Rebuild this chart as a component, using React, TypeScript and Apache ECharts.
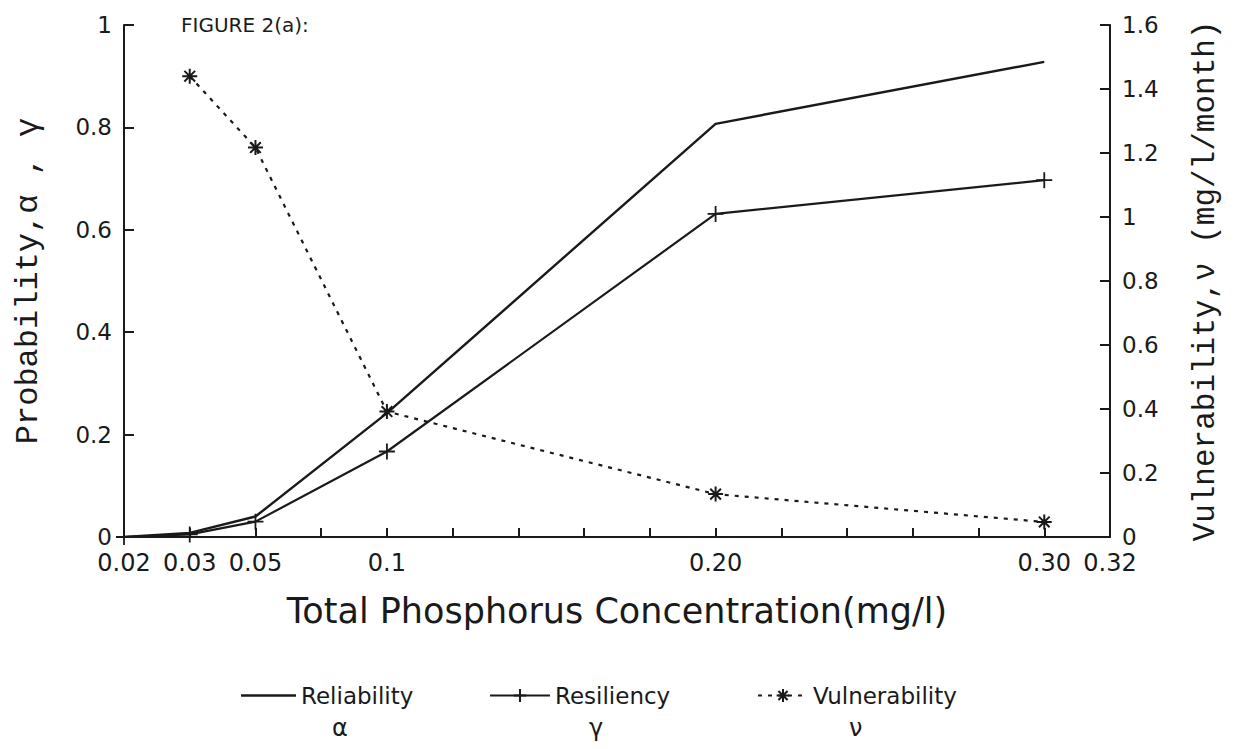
import React, { useEffect, useRef } from "react";
import * as echarts from "echarts";

// Axis positions (evenly spaced ticks as in the original figure)
const categories = ["0.02", "0.03", "0.05", "0.075", "0.1", "0.12", "0.14", "0.16", "0.18", "0.20", "0.22", "0.24", "0.26", "0.28", "0.30", "0.32"];
const labeledTicks = ["0.02", "0.03", "0.05", "0.1", "0.20", "0.30", "0.32"];

// Series data
const concentrations = ["0.02", "0.03", "0.05", "0.1", "0.20", "0.30"];
const reliability = [0, 0.008, 0.04, 0.242, 0.807, 0.928];
const resiliency = [0, 0.005, 0.03, 0.167, 0.631, 0.697];
const vulnConcentrations = ["0.03", "0.05", "0.1", "0.20", "0.30"];
const vulnerability = [1.44, 1.217, 0.392, 0.134, 0.047];

const leftTicks = { min: 0, max: 1, interval: 0.2 };
const rightTicks = { min: 0, max: 1.6, interval: 0.2 };

const INK = "#1a1a1a";
const SANS = "DejaVu Sans, sans-serif";
const MONO = "Liberation Mono, monospace";

const PLUS = "path://M7,0L7,14M0,7L14,7";
const STAR = "path://M7,0L7,14M0,7L14,7M2,2L12,12M2,12L12,2";

export default function App() {
  const ref = useRef<HTMLDivElement>(null);
  useEffect(() => {
    if (!ref.current) return;
    const chart = echarts.init(ref.current, null, { renderer: "svg" });
    const pairs = (xs: string[], ys: number[]) => xs.map((x, i) => [x, ys[i]]);
    const legendText = { fontFamily: SANS, fontSize: 23, color: INK };
    chart.setOption({
      animation: false,
      backgroundColor: "#ffffff",
      title: {
        text: "FIGURE 2(a):",
        left: 176,
        top: 10,
        textStyle: { fontFamily: SANS, fontSize: 20, fontWeight: "normal", color: INK },
      },
      grid: { left: 124, right: 133, top: 25, bottom: 212 },
      legend: [
        {
          data: [{ name: "Reliability", icon: "rect" }],
          left: 236,
          top: 679,
          itemWidth: 55,
          itemHeight: 2.5,
          itemStyle: { color: INK },
          textStyle: legendText,
        },
        {
          data: ["Resiliency"],
          left: 484,
          top: 679,
          itemWidth: 60,
          itemHeight: 16,
          textStyle: legendText,
        },
        {
          data: ["Vulnerability"],
          left: 752,
          top: 679,
          itemWidth: 50,
          itemHeight: 16,
          textStyle: legendText,
        },
      ],
      graphic: [
        { type: "text", left: 332, top: 716, style: { text: "α", font: `24px ${SANS}`, fill: INK } },
        { type: "text", left: 589, top: 716, style: { text: "γ", font: `24px ${SANS}`, fill: INK } },
        { type: "text", left: 849, top: 716, style: { text: "ν", font: `24px ${SANS}`, fill: INK } },
      ],
      xAxis: {
        type: "category",
        data: categories,
        boundaryGap: false,
        name: "Total Phosphorus Concentration(mg/l)",
        nameLocation: "middle",
        nameGap: 56,
        nameTextStyle: { fontFamily: SANS, fontSize: 35, color: INK },
        axisLine: { show: true, lineStyle: { color: INK, width: 2 } },
        axisTick: { show: true, inside: true, length: 9, interval: 0, lineStyle: { color: INK, width: 2 } },
        axisLabel: {
          interval: (_i: number, v: string) => labeledTicks.includes(v),
          fontFamily: SANS,
          fontSize: 24,
          color: INK,
          margin: 14,
        },
        splitLine: { show: false },
      },
      yAxis: [
        {
          type: "value",
          ...leftTicks,
          position: "left",
          name: "Probability,α , γ",
          nameLocation: "middle",
          nameRotate: 90,
          nameGap: 80,
          nameTextStyle: { fontFamily: MONO, fontSize: 32, color: INK },
          axisLine: { show: true, lineStyle: { color: INK, width: 2 } },
          axisTick: { show: true, inside: true, length: 10, lineStyle: { color: INK, width: 2 } },
          axisLabel: { fontFamily: SANS, fontSize: 23, color: INK, margin: 12 },
          splitLine: { show: false },
        },
        {
          type: "value",
          ...rightTicks,
          position: "right",
          name: "Vulnerability,ν (mg/l/month)",
          nameLocation: "middle",
          nameRotate: 90,
          nameGap: 80,
          nameTextStyle: { fontFamily: MONO, fontSize: 31, color: INK },
          axisLine: { show: true, lineStyle: { color: INK, width: 2 } },
          axisTick: { show: true, inside: true, length: 10, lineStyle: { color: INK, width: 2 } },
          axisLabel: { fontFamily: SANS, fontSize: 23, color: INK, margin: 12 },
          splitLine: { show: false },
        },
      ],
      series: [
        {
          name: "Reliability",
          type: "line",
          yAxisIndex: 0,
          data: pairs(concentrations, reliability),
          symbol: "none",
          lineStyle: { color: INK, width: 2.4 },
          itemStyle: { color: INK },
        },
        {
          name: "Resiliency",
          type: "line",
          yAxisIndex: 0,
          data: pairs(concentrations, resiliency),
          symbol: PLUS,
          symbolSize: 16,
          showSymbol: true,
          lineStyle: { color: INK, width: 2.2 },
          itemStyle: { color: INK, borderColor: INK, borderWidth: 1.8 },
        },
        {
          name: "Vulnerability",
          type: "line",
          yAxisIndex: 1,
          data: pairs(vulnConcentrations, vulnerability),
          symbol: STAR,
          symbolSize: 15,
          showSymbol: true,
          lineStyle: { color: INK, width: 2.2, type: [4, 6] },
          itemStyle: { color: INK, borderColor: INK, borderWidth: 2 },
        },
      ],
    });
    return () => chart.dispose();
  }, []);
  return (
    <div
      ref={ref}
      style={{ position: "absolute", left: 0, top: 0, width: 1243, height: 749, background: "#fff" }}
    />
  );
}
